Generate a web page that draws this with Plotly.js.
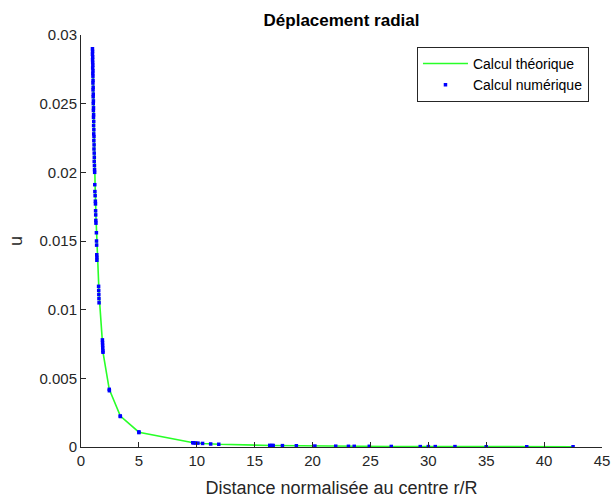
<!DOCTYPE html>
<html>
<head>
<meta charset="utf-8">
<script src="https://cdn.plot.ly/plotly-3.0.1.min.js"></script>
<style>html,body{margin:0;padding:0;background:#fff;}#chart{width:613px;height:499px;}</style>
</head>
<body>
<div id="chart"></div>
<script>
// Theoretical curve (r/R, u)
const rTheo = [1.00,1.02,1.04,1.06,1.08,1.10,1.12,1.15,1.18,1.22,1.30,1.35,1.38,1.50,1.56,1.62,1.85,1.92,2.44,3.40,5.00,9.70,10.5,11.2,11.9,16.4,17.4,18.6,20.2,22.0,23.1,24.9,26.8,29.3,30.6,32.3,35.0,38.5,42.5];
const uTheo = [0.0289,0.0278,0.0267,0.0257,0.0248,0.0239,0.0230,0.0218,0.0205,0.0190,0.0166,0.0155,0.0140,0.0122,0.0112,0.0104,0.0079,0.0068,0.0042,0.00225,0.00108,0.00031,0.00026,0.00023,0.00020,0.00011,0.00010,0.00008,0.00007,0.00006,0.00005,0.00005,0.00004,0.00003,0.00003,0.00003,0.00002,0.00002,0.00002];

// Numerical results (r/R, u)
const rNum = [0.99,1.00,0.99,1.01,1.00,1.01,1.02,1.01,1.03,1.02,1.03,1.04,1.03,1.05,1.04,1.06,1.05,1.07,1.06,1.08,1.07,1.09,1.08,1.10,1.09,1.11,1.10,1.12,1.11,1.13,1.12,1.14,1.15,1.14,1.16,1.17,1.18,1.19,1.20,1.22,1.24,1.25,1.26,1.27,1.28,1.29,1.33,1.34,1.35,1.36,1.37,1.37,1.52,1.53,1.54,1.55,1.56,1.85,1.86,1.87,1.88,1.89,1.90,2.44,2.45,3.39,3.40,5.00,5.00,9.65,9.75,9.90,10.1,10.5,11.2,11.9,16.3,16.5,16.6,17.4,18.6,20.2,22.0,23.1,23.6,24.9,26.8,29.3,30.0,30.6,32.3,35.0,38.5,42.5];
const uNum = [0.0290,0.0288,0.0286,0.0284,0.0282,0.0280,0.0278,0.0276,0.0274,0.0272,0.0270,0.0267,0.0265,0.0262,0.0260,0.0257,0.0255,0.0252,0.0250,0.0247,0.0245,0.0242,0.0240,0.0237,0.0234,0.0231,0.0228,0.0226,0.0223,0.0220,0.0217,0.0214,0.0211,0.0208,0.0205,0.0202,0.0200,0.0191,0.0186,0.0183,0.0179,0.0177,0.0172,0.0169,0.0165,0.0163,0.0156,0.0150,0.0147,0.0140,0.0138,0.0136,0.0117,0.0114,0.0111,0.0108,0.0105,0.0078,0.0076,0.0074,0.0072,0.0070,0.0069,0.0042,0.0041,0.00226,0.00222,0.00110,0.00105,0.00031,0.00030,0.00029,0.00028,0.00026,0.00022,0.00020,0.00012,0.00011,0.00011,0.00010,0.00009,0.00007,0.00006,0.00005,0.00005,0.00005,0.00004,0.00003,0.00003,0.00003,0.00003,0.00002,0.00002,0.00002];

const xTicks = [0,5,10,15,20,25,30,35,40,45];
const yTicks = [0,0.005,0.01,0.015,0.02,0.025,0.03];
const yTickText = ['0','0.005','0.01','0.015','0.02','0.025','0.03'];

const FONT = 'Liberation Sans, Arial, Helvetica, sans-serif';
const AX = '#262626';

const traces = [
  {x: rTheo, y: uTheo, type: 'scatter', mode: 'lines', name: 'Calcul théorique',
   line: {color: 'rgb(40,255,40)', width: 1.6}},
  {x: rNum, y: uNum, type: 'scatter', mode: 'markers', name: 'Calcul numérique',
   marker: {color: 'rgb(0,0,255)', size: 3.5, symbol: 'square'}}
];

const layout = {
  width: 613, height: 499,
  margin: {l: 81, r: 11, t: 35, b: 52},
  paper_bgcolor: '#fff', plot_bgcolor: '#fff',
  font: {family: FONT, color: AX},
  title: {text: '<b>Déplacement radial</b>', font: {family: FONT, size: 17, color: '#000'},
          x: 0.5, xref: 'paper', xanchor: 'center', y: 0.96, yref: 'container', yanchor: 'middle'},
  showlegend: true,
  legend: {x: 0.975, y: 0.971, xanchor: 'right', yanchor: 'top', bgcolor: '#fff',
           bordercolor: AX, borderwidth: 1, font: {family: FONT, size: 14, color: '#000'},
           tracegroupgap: 0, itemwidth: 45},
  xaxis: {range: [0, 45], tickvals: xTicks, ticks: 'inside', ticklen: 5, tickcolor: AX,
          showline: true, linecolor: AX, linewidth: 1, mirror: false, showgrid: false, zeroline: false,
          tickfont: {family: FONT, size: 15, color: AX},
          title: {text: 'Distance normalisée au centre r/R', font: {family: FONT, size: 18, color: AX}, standoff: 13}},
  yaxis: {range: [0, 0.03], tickvals: yTicks, ticktext: yTickText, ticks: 'inside', ticklen: 5, tickcolor: AX,
          showline: true, linecolor: AX, linewidth: 1, mirror: false, showgrid: false, zeroline: false,
          tickfont: {family: FONT, size: 15, color: AX},
          title: {text: 'u', font: {family: FONT, size: 18, color: AX}, standoff: 12}}
};

Plotly.newPlot('chart', traces, layout, {displayModeBar: false, staticPlot: true});
</script>
</body>
</html>
